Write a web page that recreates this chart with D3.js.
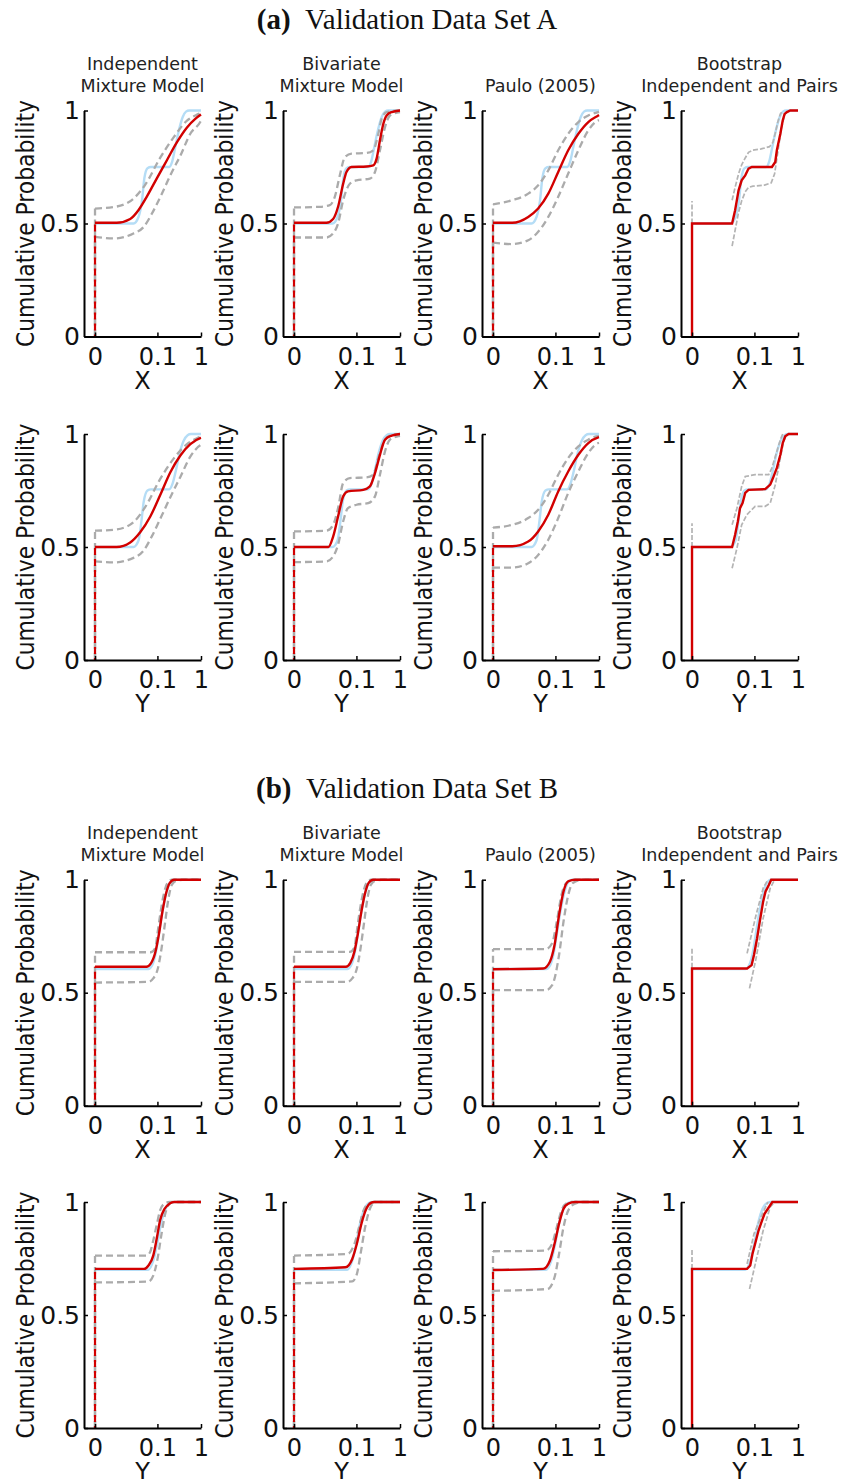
<!DOCTYPE html>
<html><head><meta charset="utf-8">
<script src="https://cdn.jsdelivr.net/npm/d3@7"></script>
<style>body{margin:0;background:#fff}</style>
</head><body>
<svg id="chart" width="845" height="1479"></svg>
<script>
// ---------- tick labels / categories ----------
const setTitles = [["(a)", "Validation Data Set A"], ["(b)", "Validation Data Set B"]];
const methodTitles = [["Independent", "Mixture Model"], ["Bivariate", "Mixture Model"], ["Paulo (2005)"], ["Bootstrap", "Independent and Pairs"]];
const variables = ["X", "Y"];
const xTickValues = [0, 0.1, 1];
const xTickLabels = ["0", "0.1", "1"];
const yTickValues = [0, 0.5, 1];
const yTickLabels = ["0", "0.5", "1"];
const yLabel = "Cumulative Probability";

// ---------- Set A, variable X ----------
const AX_emp = [[0,0.5],[0.0122,0.5],[0.021,0.53],[0.029,0.60],[0.036,0.70],[0.047,0.745],[0.062,0.75],[0.212,0.75],[0.248,0.77],[0.293,0.83],[0.35,0.90],[0.437,0.97],[0.515,0.995],[0.60,1],[1,1]];
const AX_ind_model = [[0,0.503],[0.001,0.503],[0.0083,0.52],[0.021,0.56],[0.045,0.62],[0.096,0.70],[0.185,0.78],[0.327,0.86],[0.54,0.925],[0.785,0.963],[1,0.982]];
const AX_ind_upper = [[0,0.566],[0.001,0.575],[0.0122,0.61],[0.038,0.67],[0.12,0.79],[0.27,0.88],[0.54,0.955],[0.91,0.985],[1,0.99]];
const AX_ind_lower = [[0,0.441],[0.0006,0.434],[0.0122,0.456],[0.034,0.485],[0.067,0.544],[0.135,0.632],[0.248,0.728],[0.39,0.80],[0.63,0.897],[0.97,0.949],[1,0.955]];
const AX_biv_model = [[0,0.503],[0.0058,0.503],[0.0131,0.52],[0.022,0.574],[0.0354,0.676],[0.047,0.728],[0.070,0.75],[0.192,0.752],[0.282,0.757],[0.338,0.787],[0.402,0.868],[0.474,0.94],[0.556,0.978],[0.70,0.993],[1,1]];
const AX_biv_upper = [[0,0.571],[0.0021,0.574],[0.0089,0.581],[0.0157,0.618],[0.0261,0.713],[0.041,0.794],[0.070,0.809],[0.192,0.812],[0.282,0.824],[0.37,0.897],[0.437,0.963],[0.556,0.993],[1,1]];
const AX_biv_lower = [[0,0.438],[0.0058,0.438],[0.0131,0.456],[0.022,0.50],[0.0354,0.603],[0.0617,0.676],[0.1008,0.691],[0.234,0.699],[0.31,0.728],[0.402,0.824],[0.515,0.926],[0.649,0.978],[1,0.993]];
const AX_pau_model = [[0,0.503],[0.0006,0.503],[0.0083,0.529],[0.0245,0.566],[0.059,0.632],[0.121,0.728],[0.225,0.824],[0.39,0.897],[0.63,0.949],[0.97,0.978],[1,0.98]];
const AX_pau_upper = [[0,0.585],[0.0006,0.603],[0.0083,0.632],[0.0245,0.669],[0.059,0.735],[0.121,0.824],[0.225,0.897],[0.39,0.949],[0.63,0.978],[0.97,0.993],[1,0.994]];
const AX_pau_lower = [[0,0.415],[0.0006,0.409],[0.0083,0.426],[0.0245,0.463],[0.059,0.529],[0.121,0.618],[0.225,0.721],[0.39,0.824],[0.63,0.912],[0.97,0.956],[1,0.957]];
const AX_boot_model = [[0,0],[0,0.5],[0.0146,0.5],[0.020,0.559],[0.028,0.647],[0.037,0.691],[0.050,0.713],[0.065,0.743],[0.083,0.75],[0.293,0.75],[0.35,0.772],[0.38,0.824],[0.453,0.897],[0.508,0.956],[0.556,0.985],[0.62,0.993],[0.72,1],[1,1]];
const AX_boot_upper = [[0,0.5],[0,0.6],null,[0.0146,0.603],[0.020,0.66],[0.028,0.72],[0.037,0.76],[0.050,0.79],[0.065,0.815],[0.09,0.825],[0.157,0.83],[0.257,0.84],[0.31,0.86],[0.35,0.90],[0.40,0.95],[0.453,0.985],[0.515,1]];
const AX_boot_lower = [[0.0146,0.40],[0.020,0.47],[0.028,0.55],[0.037,0.60],[0.050,0.64],[0.065,0.66],[0.09,0.665],[0.192,0.67],[0.282,0.68],[0.338,0.72],[0.402,0.82],[0.474,0.92],[0.556,0.98],[0.63,1]];

// ---------- Set A, variable Y ----------
const AY_emp = [[0,0.5],[0.0122,0.5],[0.021,0.53],[0.028,0.62],[0.034,0.70],[0.047,0.75],[0.062,0.755],[0.212,0.755],[0.257,0.78],[0.31,0.84],[0.37,0.91],[0.46,0.97],[0.556,0.995],[0.649,1],[1,1]];
const AY_ind_model = [[0,0.5],[0.001,0.5],[0.0083,0.52],[0.0245,0.565],[0.059,0.635],[0.121,0.73],[0.225,0.83],[0.39,0.905],[0.63,0.955],[0.97,0.982],[1,0.983]];
const AY_ind_upper = [[0,0.572],[0.001,0.578],[0.0122,0.61],[0.038,0.675],[0.12,0.80],[0.27,0.89],[0.54,0.955],[0.91,0.985],[1,0.99]];
const AY_ind_lower = [[0,0.436],[0.0006,0.432],[0.0122,0.452],[0.034,0.485],[0.067,0.548],[0.135,0.64],[0.248,0.735],[0.39,0.81],[0.63,0.90],[0.97,0.95],[1,0.952]];
const AY_biv_model = [[0,0.5],[0.0075,0.5],[0.0131,0.546],[0.022,0.635],[0.0354,0.724],[0.053,0.746],[0.157,0.753],[0.234,0.768],[0.31,0.827],[0.402,0.908],[0.515,0.975],[0.70,0.993],[1,1]];
const AY_biv_upper = [[0,0.569],[0.0058,0.572],[0.0131,0.598],[0.022,0.672],[0.0354,0.783],[0.0617,0.805],[0.192,0.808],[0.282,0.82],[0.37,0.894],[0.474,0.96],[0.60,0.99],[1,1]];
const AY_biv_lower = [[0,0.433],[0.0058,0.436],[0.0131,0.458],[0.022,0.51],[0.0354,0.613],[0.053,0.672],[0.1008,0.687],[0.212,0.694],[0.31,0.724],[0.402,0.82],[0.515,0.923],[0.649,0.975],[0.93,0.99],[1,0.992]];
const AY_pau_model = [[0,0.503],[0.0006,0.503],[0.0083,0.524],[0.0245,0.569],[0.059,0.643],[0.121,0.746],[0.225,0.834],[0.39,0.908],[0.63,0.96],[0.97,0.985],[1,0.986]];
const AY_pau_upper = [[0,0.586],[0.0006,0.598],[0.0083,0.628],[0.0245,0.665],[0.059,0.731],[0.121,0.82],[0.225,0.894],[0.39,0.945],[0.63,0.975],[0.97,0.99],[1,0.99]];
const AY_pau_lower = [[0,0.409],[0.0006,0.409],[0.0083,0.428],[0.0245,0.465],[0.059,0.532],[0.121,0.628],[0.225,0.739],[0.39,0.834],[0.63,0.916],[0.97,0.96],[1,0.961]];
const AY_boot_model = [[0,0],[0,0.5],[0.0146,0.5],[0.020,0.554],[0.0261,0.613],[0.032,0.672],[0.040,0.694],[0.050,0.739],[0.065,0.753],[0.20,0.756],[0.267,0.776],[0.31,0.805],[0.38,0.85],[0.453,0.908],[0.508,0.96],[0.572,0.99],[0.67,1],[1,1]];
const AY_boot_upper = [[0,0.5],[0,0.605],null,[0.0146,0.598],[0.024,0.672],[0.037,0.768],[0.050,0.812],[0.105,0.82],[0.245,0.82],[0.293,0.85],[0.38,0.923],[0.453,0.975],[0.508,1]];
const AY_boot_lower = [[0.0146,0.406],[0.024,0.495],[0.037,0.598],[0.057,0.643],[0.105,0.68],[0.20,0.68],[0.267,0.694],[0.35,0.775],[0.453,0.894],[0.53,0.967],[0.62,1]];

// ---------- Set B, variable X ----------
const BX_emp = [[0,0.605],[0.05,0.605],[0.07,0.625],[0.09,0.68],[0.11,0.76],[0.14,0.86],[0.177,0.94],[0.218,0.985],[0.282,1],[1,1]];
const BX_ind_model = [[0,0.615],[0.043,0.615],[0.062,0.63],[0.087,0.681],[0.11,0.756],[0.14,0.859],[0.177,0.941],[0.218,0.985],[0.282,1],[1,1]];
const BX_ind_upper = [[0,0.679],[0.062,0.679],[0.087,0.70],[0.10,0.76],[0.125,0.86],[0.15,0.93],[0.19,0.985],[0.248,1],[1,1]];
const BX_ind_lower = [[0,0.545],[0.051,0.548],[0.074,0.563],[0.103,0.607],[0.132,0.696],[0.167,0.815],[0.204,0.919],[0.248,0.978],[0.32,0.996],[0.5,1],[1,1]];
const BX_biv_model = [[0,0.615],[0.045,0.615],[0.064,0.632],[0.088,0.685],[0.11,0.76],[0.14,0.86],[0.177,0.942],[0.218,0.986],[0.282,1],[1,1]];
const BX_biv_upper = [[0,0.681],[0.062,0.681],[0.087,0.70],[0.10,0.76],[0.125,0.86],[0.15,0.93],[0.19,0.985],[0.248,1],[1,1]];
const BX_biv_lower = [[0,0.548],[0.051,0.548],[0.074,0.563],[0.103,0.607],[0.132,0.696],[0.167,0.815],[0.204,0.919],[0.248,0.978],[0.32,0.996],[0.5,1],[1,1]];
const BX_pau_model = [[0,0.604],[0.039,0.607],[0.067,0.637],[0.094,0.711],[0.128,0.844],[0.17,0.948],[0.226,0.993],[0.33,1],[1,1]];
const BX_pau_upper = [[0,0.693],[0.048,0.693],[0.079,0.719],[0.11,0.815],[0.15,0.933],[0.20,0.985],[0.29,1],[1,1]];
const BX_pau_lower = [[0,0.511],[0.048,0.511],[0.079,0.533],[0.128,0.667],[0.17,0.815],[0.226,0.933],[0.29,0.985],[0.474,1],[1,1]];
const BX_boot_model = [[0,0],[0,0.607],[0.058,0.607],[0.082,0.622],[0.097,0.667],[0.12,0.741],[0.143,0.815],[0.177,0.904],[0.204,0.948],[0.248,0.978],[0.282,1],[1,1]];
const BX_boot_upper = [[0,0.61],[0,0.70],null,[0.058,0.674],[0.112,0.844],[0.177,0.963],[0.234,1]];
const BX_boot_lower = [[0.07,0.519],[0.112,0.652],[0.177,0.83],[0.267,0.963],[0.34,1]];

// ---------- Set B, variable Y ----------
const BY_emp = [[0,0.70],[0.05,0.70],[0.074,0.74],[0.1,0.82],[0.13,0.91],[0.17,0.97],[0.22,0.995],[0.28,1],[1,1]];
const BY_ind_model = [[0,0.704],[0.035,0.704],[0.051,0.719],[0.074,0.763],[0.097,0.844],[0.12,0.919],[0.16,0.97],[0.218,0.993],[0.282,1],[1,1]];
const BY_ind_upper = [[0,0.763],[0.043,0.763],[0.058,0.778],[0.074,0.83],[0.097,0.904],[0.12,0.963],[0.16,0.993],[0.218,1],[1,1]];
const BY_ind_lower = [[0,0.644],[0.051,0.648],[0.074,0.674],[0.103,0.756],[0.132,0.859],[0.167,0.948],[0.218,0.993],[0.282,1],[1,1]];
const BY_biv_model = [[0,0.704],[0.043,0.711],[0.074,0.748],[0.103,0.815],[0.14,0.904],[0.19,0.97],[0.248,0.996],[0.3,1],[1,1]];
const BY_biv_upper = [[0,0.763],[0.051,0.77],[0.087,0.815],[0.12,0.889],[0.16,0.963],[0.218,0.993],[0.3,1],[1,1]];
const BY_biv_lower = [[0,0.64],[0.074,0.649],[0.103,0.681],[0.132,0.77],[0.177,0.889],[0.234,0.97],[0.32,1],[1,1]];
const BY_pau_model = [[0,0.699],[0.039,0.704],[0.067,0.741],[0.094,0.815],[0.128,0.904],[0.17,0.97],[0.226,0.993],[0.33,1],[1,1]];
const BY_pau_upper = [[0,0.782],[0.048,0.785],[0.079,0.815],[0.11,0.889],[0.15,0.963],[0.20,0.993],[0.27,1],[1,1]];
const BY_pau_lower = [[0,0.607],[0.055,0.615],[0.094,0.667],[0.128,0.77],[0.17,0.889],[0.226,0.963],[0.33,0.993],[0.5,1],[1,1]];
const BY_boot_model = [[0,0],[0,0.704],[0.058,0.704],[0.074,0.719],[0.087,0.77],[0.105,0.815],[0.132,0.874],[0.154,0.904],[0.192,0.948],[0.234,0.97],[0.30,1],[1,1]];
const BY_boot_upper = [[0,0.704],[0,0.793],null,[0.058,0.726],[0.097,0.859],[0.154,0.933],[0.234,1]];
const BY_boot_lower = [[0.07,0.615],[0.112,0.741],[0.177,0.874],[0.267,0.978],[0.34,1]];

// ---------- assemble panels ----------
const rowsData = [
  {v:0, emp:AX_emp, cols:[[AX_ind_model,AX_ind_upper,AX_ind_lower],[AX_biv_model,AX_biv_upper,AX_biv_lower],[AX_pau_model,AX_pau_upper,AX_pau_lower],[AX_boot_model,AX_boot_upper,AX_boot_lower]]},
  {v:1, emp:AY_emp, cols:[[AY_ind_model,AY_ind_upper,AY_ind_lower],[AY_biv_model,AY_biv_upper,AY_biv_lower],[AY_pau_model,AY_pau_upper,AY_pau_lower],[AY_boot_model,AY_boot_upper,AY_boot_lower]]},
  {v:0, emp:BX_emp, cols:[[BX_ind_model,BX_ind_upper,BX_ind_lower],[BX_biv_model,BX_biv_upper,BX_biv_lower],[BX_pau_model,BX_pau_upper,BX_pau_lower],[BX_boot_model,BX_boot_upper,BX_boot_lower]]},
  {v:1, emp:BY_emp, cols:[[BY_ind_model,BY_ind_upper,BY_ind_lower],[BY_biv_model,BY_biv_upper,BY_biv_lower],[BY_pau_model,BY_pau_upper,BY_pau_lower],[BY_boot_model,BY_boot_upper,BY_boot_lower]]}
];

// ---------- layout ----------
const W = 117, H = 226;
const colLeft = [84, 283, 482, 681];
const rowBottom = [336.5, 660, 1105.7, 1428];
const setTitleY = [29, 798];
const RED = "#d20000", GRAY = "#ababab", BOOTGRAY = "#b4b4b4", BLUE = "#b5ddf6";
const SANS = "'DejaVu Sans', sans-serif";

const svg = d3.select("#chart");
const x = d3.scalePow().exponent(0.23).domain([-5.3e-5, 1]).range([0, W]);
const y = d3.scaleLinear().domain([0, 1]).range([H, 0]);
const smooth = d3.line().x(d => x(d[0])).y(d => y(d[1])).curve(d3.curveMonotoneX);
const straight = d3.line().defined(d => d !== null).x(d => x(d[0])).y(d => y(d[1]));

// set titles
setTitles.forEach((t, i) => {
  const tx = svg.append("text").attr("x", 407).attr("y", setTitleY[i])
    .attr("text-anchor", "middle").attr("font-family", "'Liberation Serif', serif")
    .attr("font-size", 29).attr("fill", "#111");
  tx.append("tspan").attr("font-weight", "bold").text(t[0]);
  tx.append("tspan").text("\u2002" + t[1]);
});

rowsData.forEach((row, ri) => {
  const top = rowBottom[ri] - H;
  row.cols.forEach((c, ci) => {
    const [model, upper, lower] = c;
    const boot = ci === 3;
    const g = svg.append("g").attr("transform", `translate(${colLeft[ci]},${top})`);

    if (row.v === 0) {
      const lines = methodTitles[ci];
      lines.forEach((ln, li) => {
        g.append("text").attr("x", W / 2).attr("y", -19 - (lines.length - 1 - li) * 22)
          .attr("text-anchor", "middle").attr("font-family", SANS).attr("font-size", 17.5)
          .attr("fill", "#222").text(ln);
      });
    }

    g.append("path").attr("d", smooth(row.emp)).attr("fill", "none")
      .attr("stroke", BLUE).attr("stroke-width", 2.4);

    if (!boot) {
      [upper, lower].forEach(b => {
        g.append("path").attr("d", straight([[0, 0], b[0]])).attr("fill", "none")
          .attr("stroke", GRAY).attr("stroke-width", 2.3).attr("stroke-dasharray", "7,4");
      });
      [upper, lower].forEach(b => {
        g.append("path").attr("d", smooth(b)).attr("fill", "none")
          .attr("stroke", GRAY).attr("stroke-width", 2.3).attr("stroke-dasharray", "7,4");
      });
      g.append("path").attr("d", straight([[0, 0], model[0]])).attr("fill", "none")
        .attr("stroke", RED).attr("stroke-width", 2.2).attr("stroke-dasharray", "7,4")
        .attr("stroke-dashoffset", 5);
      g.append("path").attr("d", smooth(model)).attr("fill", "none")
        .attr("stroke", RED).attr("stroke-width", 2.4);
    } else {
      [upper, lower].forEach(b => {
        g.append("path").attr("d", straight(b)).attr("fill", "none")
          .attr("stroke", BOOTGRAY).attr("stroke-width", 1.7).attr("stroke-dasharray", "5,2");
      });
      g.append("path").attr("d", straight(model)).attr("fill", "none")
        .attr("stroke", RED).attr("stroke-width", 2.4);
    }

    const ax = g.append("g").attr("transform", `translate(0,${H})`)
      .call(d3.axisBottom(x).tickValues(xTickValues).tickFormat((d, i) => xTickLabels[i])
        .tickSizeInner(-4).tickSizeOuter(0).tickPadding(11));
    const ay = g.append("g")
      .call(d3.axisLeft(y).tickValues(yTickValues).tickFormat((d, i) => yTickLabels[i])
        .tickSizeInner(-4).tickSizeOuter(0).tickPadding(4));
    [ax, ay].forEach(a => {
      a.select(".domain").attr("stroke", "#000").attr("stroke-width", 2);
      a.selectAll(".tick line").attr("stroke", "#000").attr("stroke-width", 1.5);
      a.selectAll("text").attr("font-family", SANS).attr("fill", "#111");
    });
    ax.selectAll("text").attr("font-size", 24);
    ay.selectAll("text").attr("font-size", 25);

    g.append("text").attr("x", W / 2).attr("y", H + 52).attr("text-anchor", "middle")
      .attr("font-family", SANS).attr("font-size", 24).attr("fill", "#111")
      .text(variables[row.v]);
    g.append("text").attr("transform", `translate(-59,${H / 2}) rotate(-90)`)
      .attr("text-anchor", "middle").attr("dominant-baseline", "central")
      .attr("font-family", SANS).attr("font-size", 25).attr("fill", "#111")
      .attr("textLength", 247).attr("lengthAdjust", "spacingAndGlyphs")
      .text(yLabel);
  });
});
</script>
</body></html>
